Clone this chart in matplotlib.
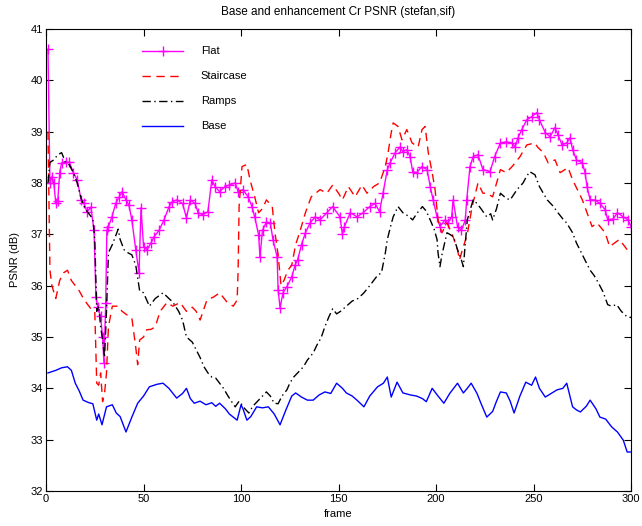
import matplotlib.pyplot as plt
import matplotlib as mpl

# frames / PSNR values
flat_frame = [1, 2, 3, 4, 5, 6, 7, 8, 10, 12, 14, 16, 18, 19.5, 21, 23, 24.6, 25.6, 26.5, 28, 29, 29.7,
              30.6, 31.2, 32, 33.8, 35.7, 37.5, 39, 41, 42.5, 44, 46, 47.7, 48.7, 50, 51.8, 53.8, 55.4,
              58, 60.5, 63, 64.6, 67, 70, 72, 74, 76.4, 78, 80.5, 83, 85, 86.7, 89, 91.8, 94, 97, 98.5,
              101, 103.6, 105.6, 107, 109, 109.7, 111, 113, 115, 116.4, 118.5, 119, 120, 121.5, 123.5,
              126, 127.7, 129, 131, 133, 135.4, 138, 140.5, 144, 147, 150.7, 152, 153, 156, 159.5, 162.6,
              166, 168.7, 171, 172.8, 175, 176.4, 179, 181.5, 183, 185, 186.7, 188, 190, 192.8, 195.4,
              197, 198.5, 200.5, 202, 204.6, 206, 208, 208.7, 211, 213, 215, 215.7, 217.4, 219, 221.5,
              224, 227.7, 230, 233, 236, 239, 240.5, 242, 244, 246.5, 249, 251.7, 253, 256, 258.5, 261,
              262.5, 264.6, 267, 268.7, 270, 272, 275, 276.4, 277.4, 279, 281.5, 284, 286.7, 288, 290.8,
              293, 296, 298.5, 300]
flat_psnr = [40.6, 38.0, 38.12, 38.0, 37.6, 37.65, 38.2, 38.39, 38.41, 38.4, 38.2, 38.06, 37.67, 37.6,
             37.44, 37.53, 37.08, 35.78, 35.59, 35.4, 35.0, 34.5, 35.66, 37.08, 37.15, 37.34, 37.6, 37.73,
             37.83, 37.67, 37.57, 37.28, 36.7, 36.25, 37.52, 36.76, 36.7, 36.83, 36.95, 37.08, 37.28,
             37.53, 37.63, 37.67, 37.6, 37.32, 37.67, 37.6, 37.42, 37.38, 37.44, 38.06, 37.93, 37.83,
             37.93, 37.96, 38.0, 37.83, 37.87, 37.73, 37.54, 37.34, 36.99, 36.56, 37.08, 37.24, 37.22,
             36.89, 36.56, 35.92, 35.57, 35.86, 35.98, 36.17, 36.4, 36.5, 36.8, 37.03, 37.22, 37.34,
             37.28, 37.42, 37.54, 37.34, 37.0, 37.15, 37.42, 37.34, 37.42, 37.54, 37.6, 37.44, 37.8,
             38.26, 38.39, 38.59, 38.7, 38.61, 38.65, 38.51, 38.22, 38.2, 38.32, 38.26, 37.93, 37.67,
             37.34, 37.15, 37.28, 37.22, 37.34, 37.67, 37.15, 37.08, 37.28, 37.67, 38.32, 38.51, 38.55,
             38.26, 38.22, 38.51, 38.78, 38.8, 38.78, 38.7, 38.88, 39.04, 39.23, 39.29, 39.37, 39.23,
             38.98, 38.9, 39.08, 38.94, 38.74, 38.78, 38.88, 38.65, 38.45, 38.39, 38.2, 37.93, 37.67,
             37.67, 37.6, 37.48, 37.28, 37.3, 37.42, 37.34, 37.28, 37.15]

stair_frame = [1, 2, 3, 5, 7, 9, 11, 13, 15, 17, 19, 21, 23, 25, 26, 27, 28, 29, 30, 31, 32, 34, 37, 39,
               41.5, 44, 46, 47, 48, 50, 51.6, 54, 56, 58.5, 62, 65, 68.7, 72, 75, 77, 79, 82.5, 86, 89,
               93, 96, 98, 98.5, 99, 100.5, 103, 104.6, 107, 109, 111, 113, 116, 117.4, 119, 120.5, 122,
               124, 126, 128, 130, 133, 136, 140.5, 144, 147, 150, 152, 155, 158.5, 162, 164.6, 168, 171,
               174, 175.4, 177, 178, 180.5, 182.5, 185, 187.7, 190.8, 192.8, 194.4, 196, 198, 199.5, 201,
               203, 205.6, 208, 211, 212, 214, 216, 218.5, 221.5, 224, 226, 229, 233, 236, 239, 243,
               246.5, 250.7, 252, 255, 257.5, 261, 263.6, 267.7, 270, 273, 275, 280, 282.6, 286.7, 289,
               294, 298, 300]
stair_psnr = [39.0, 36.3, 36.0, 35.75, 36.1, 36.25, 36.3, 36.1, 36.0, 35.9, 35.76, 35.65, 35.55, 35.5,
              34.1, 34.06, 34.3, 33.74, 33.9, 34.3, 35.2, 35.6, 35.6, 35.5, 35.43, 35.37, 34.8, 34.46,
              34.94, 35.0, 35.14, 35.15, 35.2, 35.5, 35.67, 35.6, 35.67, 35.5, 35.58, 35.5, 35.33, 35.72,
              35.78, 35.86, 35.67, 35.6, 35.72, 36.3, 37.54, 38.32, 38.36, 38.06, 37.73, 37.42, 37.5,
              37.67, 37.54, 37.03, 36.6, 36.0, 36.1, 36.3, 36.4, 36.8, 37.03, 37.42, 37.73, 37.87, 37.8,
              37.96, 37.8, 37.67, 37.93, 37.73, 37.96, 37.8, 37.93, 38.0, 38.32, 38.59, 38.98, 39.17, 39.1,
              38.84, 39.04, 38.78, 38.7, 39.04, 39.1, 38.59, 38.2, 37.87, 37.28, 37.03, 37.22, 37.03, 36.7,
              36.5, 36.76, 37.0, 37.54, 38.0, 37.8, 37.8, 37.73, 38.26, 38.2, 38.32, 38.51, 38.74, 38.78,
              38.7, 38.59, 38.39, 38.45, 38.2, 38.3, 38.06, 37.83, 37.67, 37.15, 37.22, 37.03, 36.76,
              36.9, 36.7, 36.76]

ramp_frame = [1, 2, 4, 6, 8, 10, 12, 14, 16, 18, 20, 22, 24, 25, 26, 27, 28, 29, 30, 31, 32, 34, 36, 37,
              38, 40, 42, 44, 46, 48, 50, 53, 56, 60, 63, 65, 68, 70, 72, 75, 77, 79, 81, 83, 85, 87, 89,
              91, 93, 95, 97, 99, 100.5, 102, 104, 106, 109, 111, 113, 115, 117, 119, 121, 123.5, 125,
              127, 129, 132, 134, 137, 139, 141, 143, 145, 147, 149, 151, 154, 157, 160, 163, 166, 168,
              170, 172, 174, 175, 177, 178, 180.5, 183, 186, 188, 190, 193, 195, 197, 199, 200.5, 201,
              202, 203, 205.6, 207, 209, 211, 213, 214, 216, 219, 221, 223, 226, 228, 229, 231, 233, 236,
              238, 241.5, 244.6, 246, 248, 250.7, 253, 255, 257, 260, 262.5, 265, 267, 270, 272, 275,
              277, 279, 281, 283, 285.6, 288, 290, 292.6, 295, 298, 300]
ramp_psnr = [38.0, 38.4, 38.45, 38.55, 38.59, 38.4, 38.35, 38.2, 38.0, 37.7, 37.5, 37.4, 37.3, 36.9,
             35.5, 35.6, 35.2, 34.94, 34.6, 35.5, 36.64, 36.8, 37.0, 37.1, 36.9, 36.7, 36.64, 36.6, 36.4,
             35.9, 35.86, 35.6, 35.75, 35.86, 35.75, 35.68, 35.5, 35.33, 35.0, 34.9, 34.75, 34.6, 34.42,
             34.3, 34.22, 34.2, 34.1, 34.0, 33.87, 33.75, 33.64, 33.75, 33.68, 33.6, 33.52, 33.65, 33.77,
             33.85, 33.93, 33.85, 33.71, 33.7, 33.85, 33.97, 34.1, 34.22, 34.3, 34.42, 34.55, 34.69,
             34.85, 34.98, 35.2, 35.39, 35.55, 35.45, 35.5, 35.6, 35.7, 35.75, 35.86, 36.0, 36.1, 36.2,
             36.25, 36.64, 36.9, 37.2, 37.34, 37.54, 37.42, 37.35, 37.28, 37.4, 37.54, 37.45, 37.28,
             37.1, 36.9, 36.64, 36.37, 36.6, 37.03, 37.0, 36.95, 36.7, 36.5, 36.37, 37.28, 37.67, 37.6,
             37.5, 37.34, 37.4, 37.28, 37.5, 37.8, 37.7, 37.67, 37.87, 38.0, 38.1, 38.22, 38.16, 37.93,
             37.8, 37.67, 37.55, 37.42, 37.3, 37.22, 37.03, 36.83, 36.6, 36.45, 36.3, 36.2, 36.07, 35.88,
             35.63, 35.6, 35.63, 35.5, 35.39, 35.38]

base_frame = [1, 5, 8, 11, 13, 15, 17, 19, 22, 24, 26, 27, 28.7, 31, 34, 36, 38, 41, 44, 47, 50, 53, 57,
              60, 63, 67, 70, 72, 74, 76, 79, 82, 85, 87, 89, 92, 94, 96, 98, 100, 101, 103, 105, 108,
              111, 114, 117, 120, 123, 126, 128, 131, 134, 137, 140, 143, 146, 149, 152, 154, 157, 160,
              163, 166, 170, 173, 175, 177, 180, 183, 187, 190, 193, 195, 198, 201, 204, 207, 211, 214,
              216, 218, 221, 223, 226, 229, 231, 233, 236, 238, 240, 243, 246, 249, 251, 253, 256, 259,
              262, 265, 267, 270, 272, 274, 277, 279, 282, 284, 287, 290, 293, 296, 298, 300]
base_psnr = [34.3, 34.35, 34.4, 34.42, 34.35, 34.1, 33.95, 33.77, 33.72, 33.7, 33.38, 33.5, 33.29, 33.64,
             33.68, 33.52, 33.45, 33.15, 33.44, 33.71, 33.85, 34.03, 34.08, 34.1, 34.0, 33.81, 33.9, 34.0,
             33.8, 33.71, 33.75, 33.68, 33.72, 33.65, 33.71, 33.6, 33.5, 33.44, 33.38, 33.68, 33.6,
             33.38, 33.45, 33.64, 33.62, 33.64, 33.5, 33.29, 33.58, 33.85, 33.91, 33.83, 33.77, 33.77,
             33.87, 33.93, 33.9, 34.1, 34.0, 33.91, 33.85, 33.75, 33.64, 33.85, 34.03, 34.1, 34.22, 33.83,
             34.12, 33.91, 33.87, 33.85, 33.8, 33.74, 34.0, 33.85, 33.71, 33.9, 34.1, 33.91, 34.0, 34.1,
             33.9, 33.71, 33.44, 33.55, 33.75, 33.93, 33.91, 33.75, 33.52, 33.85, 34.12, 34.06, 34.22,
             34.0, 33.83, 33.9, 33.97, 34.0, 34.1, 33.64, 33.58, 33.54, 33.65, 33.77, 33.6, 33.44, 33.4,
             33.25, 33.15, 32.99, 32.76, 32.76]

mpl.rc('font', family='Liberation Sans', size=8)

fig = plt.figure(figsize=(6.42, 5.26), dpi=100)
ax = fig.add_axes([0.0717, 0.0665, 0.9113, 0.8785])

ax.plot(flat_frame, flat_psnr, color='#ff00ff', lw=1.0, marker='+', ms=7, mew=1.0, label='Flat')
ax.plot(stair_frame, stair_psnr, color='#ff0000', lw=1.0, ls=(0, (6, 4)), label='Staircase')
ax.plot(ramp_frame, ramp_psnr, color='black', lw=1.0, ls=(0, (6, 2.5, 1, 2.5)), label='Ramps')
ax.plot(base_frame, base_psnr, color='#0000ff', lw=1.0, label='Base')

ax.set_xlim(0, 300)
ax.set_ylim(32, 41)
ax.set_xticks(range(0, 301, 50))
ax.set_yticks(range(32, 42))
ax.tick_params(direction='in', top=True, right=True, length=5, width=0.8, pad=2)
for s in ax.spines.values():
    s.set_linewidth(0.8)

ax.set_title('Base and enhancement Cr PSNR (stefan,sif)', fontsize=8.5, pad=10)
ax.set_xlabel('frame', labelpad=4)
ax.set_ylabel('PSNR (dB)', labelpad=8)

ax.legend(loc='upper left', bbox_to_anchor=(0.164, 0.962), frameon=False, borderpad=0,
          borderaxespad=0, handlelength=3.7, handletextpad=1.6, labelspacing=1.35)

plt.savefig('out.png', dpi=100)
